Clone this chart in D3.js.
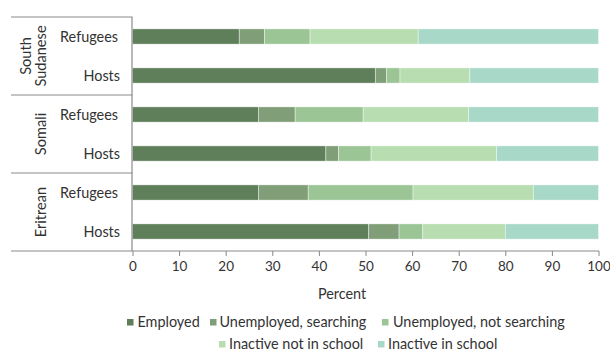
<!DOCTYPE html>
<html><head><meta charset="utf-8">
<script src="https://cdn.jsdelivr.net/npm/d3@7"></script>
<style>body{margin:0;background:#fff;} text{font-family:Lato,"Noto Sans",sans-serif;fill:#333;}</style>
</head><body><svg id="c" width="610" height="354"></svg>
<script>
const groups = ["South Sudanese", "Somali", "Eritrean"];
const groupLines = [["South", "Sudanese"], ["Somali"], ["Eritrean"]];
const populations = ["Refugees", "Hosts"];
const seriesNames = ["Employed", "Unemployed, searching", "Unemployed, not searching", "Inactive not in school", "Inactive in school"];
const employed      = [22.9, 52.1, 27.0, 41.5, 27.0, 50.7];
const unempSearch   = [5.4, 2.4, 7.9, 2.7, 10.7, 6.5];
const unempNotSearch= [9.8, 2.9, 14.6, 7.0, 22.5, 5.1];
const inactiveNot   = [23.2, 15.0, 22.6, 26.9, 25.8, 17.7];
const inactiveSchool= [38.7, 27.6, 27.9, 21.9, 14.0, 20.0];
const ticks = [0,10,20,30,40,50,60,70,80,90,100];
const colors = ["#5f7f5a", "#809f79", "#9bc595", "#b8ddb1", "#a7d8c8"];

const rows = [];
groups.forEach((g,gi)=>populations.forEach((p,pi)=>rows.push({key:g+"|"+p, group:g, pop:p})));
const seriesVals = [employed, unempSearch, unempNotSearch, inactiveNot, inactiveSchool];
rows.forEach((r,i)=>seriesNames.forEach((s,si)=>r[s]=seriesVals[si][i]));

const svg = d3.select("#c");
const x = d3.scaleLinear().domain([0,100]).range([132.5,598.5]);
const y = d3.scaleBand().domain(rows.map(r=>r.key)).range([17,251]).paddingInner(0.61).paddingOuter(0.305);
const gy = d3.scaleBand().domain(groups).range([17,251]);

const stack = d3.stack().keys(seriesNames)(rows);
svg.append("g").selectAll("g").data(stack).join("g")
  .attr("fill",(d,i)=>colors[i])
  .selectAll("rect").data(d=>d).join("rect")
  .attr("x",d=>x(d[0])).attr("width",d=>x(d[1])-x(d[0]))
  .attr("y",d=>y(d.data.key)).attr("height",y.bandwidth())
  .attr("stroke","#fff").attr("stroke-width",0.6).attr("stroke-opacity",0.7);

// x axis
const xa = svg.append("g").attr("transform","translate(0,251)")
  .call(d3.axisBottom(x).tickValues(ticks).tickSize(5).tickSizeOuter(0));
xa.select(".domain").remove();
xa.selectAll("line").attr("stroke","#888");
xa.selectAll("text").attr("font-size",13.5).attr("dy","0.9em").attr("fill","#333").style("font-family","Lato,'Noto Sans',sans-serif");
svg.append("text").attr("x",342).attr("y",299).attr("text-anchor","middle").attr("font-size",14.4).text("Percent");

// table lines
const lineCol = "#8a8a8a";
[17, gy("Somali"), gy("Eritrean")].forEach(v=>{
  svg.append("line").attr("x1",11).attr("x2",132.5).attr("y1",v).attr("y2",v).attr("stroke",lineCol).attr("stroke-width",1);
});
svg.append("line").attr("x1",11).attr("x2",599).attr("y1",251).attr("y2",251).attr("stroke",lineCol).attr("stroke-width",1.2);
svg.append("line").attr("x1",132).attr("x2",132).attr("y1",17).attr("y2",251).attr("stroke",lineCol).attr("stroke-width",1.2);

// row labels
svg.append("g").selectAll("text").data(rows).join("text")
  .attr("x",d=>d.pop==="Refugees"?118:120).attr("y",d=>y(d.key)+y.bandwidth()/2)
  .attr("dy","0.35em").attr("text-anchor","end").attr("font-size",14.4).text(d=>d.pop);

// group labels
groups.forEach((g,gi)=>{
  const cy = gy(g)+gy.bandwidth()/2;
  const lines = groupLines[gi];
  const t = svg.append("text").attr("transform",`translate(${lines.length>1?33:41},${cy}) rotate(-90)`)
    .attr("text-anchor","middle").attr("font-size",14.6);
  lines.forEach((l,li)=>t.append("tspan").attr("x",0).attr("dy",li===0?(lines.length>1?"-0.15em":"0.35em"):"1.05em").text(l));
});

// legend
const legendItems = [
  {name:seriesNames[0], c:colors[0], sx:127, tx:137.5, y:327},
  {name:seriesNames[1], c:colors[1], sx:210, tx:219.5, y:327},
  {name:seriesNames[2], c:colors[2], sx:382, tx:393, y:327},
  {name:seriesNames[3], c:colors[3], sx:219, tx:229, y:349},
  {name:seriesNames[4], c:colors[4], sx:378, tx:388, y:349}
];
const lg = svg.append("g");
legendItems.forEach(it=>{
  lg.append("rect").attr("x",it.sx).attr("y",it.y-8).attr("width",6.5).attr("height",6.5).attr("fill",it.c);
  lg.append("text").attr("x",it.tx).attr("y",it.y).attr("font-size",14.4).text(it.name);
});
</script></body></html>
